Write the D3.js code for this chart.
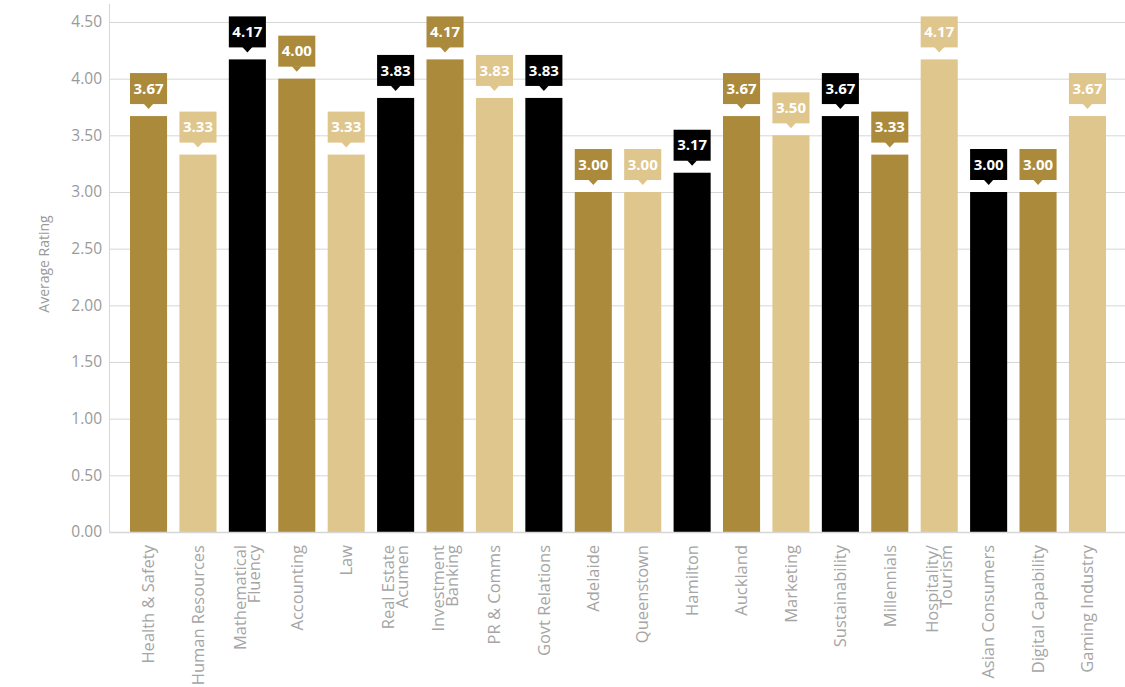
<!DOCTYPE html>
<html>
<head>
<meta charset="utf-8">
<script src="https://cdnjs.cloudflare.com/ajax/libs/d3/7.8.5/d3.min.js"></script>
<style>
  body { margin: 0; background: #fff; }
  svg text { font-family: "Open Sans", sans-serif; }
</style>
</head>
<body>
<svg id="chart" width="1125" height="687"></svg>
<script>
// categories (use \n for two-line labels)
var categories = ["Health & Safety", "Human Resources", "Mathematical\nFluency", "Accounting", "Law",
    "Real Estate\nAcumen", "Investment\nBanking", "PR & Comms", "Govt Relations", "Adelaide",
    "Queenstown", "Hamilton", "Auckland", "Marketing", "Sustainability",
    "Millennials", "Hospitality/\nTourism", "Asian Consumers", "Digital Capability", "Gaming Industry"];
var ratings = [3.67, 3.33, 4.17, 4.00, 3.33, 3.83, 4.17, 3.83, 3.83, 3.00,
    3.00, 3.17, 3.67, 3.50, 3.67, 3.33, 4.17, 3.00, 3.00, 3.67];
var yTicks = [0, 0.5, 1, 1.5, 2, 2.5, 3, 3.5, 4, 4.5];
var palette = ["#ab8a3c", "#dfc68d", "#000000"];

var svg = d3.select("#chart");
var plotL = 109, plotR = 1127, plotT = 22, plotB = 532;

var x = d3.scaleBand()
    .domain(categories)
    .range([plotL, plotR])
    .paddingInner(0.25)
    .paddingOuter(0.425);

var y = d3.scaleLinear()
    .domain([0, 4.5])
    .range([plotB, plotT]);

// grid
svg.append("g")
    .selectAll("line")
    .data(yTicks)
    .enter().append("line")
    .attr("x1", plotL)
    .attr("x2", 1125)
    .attr("y1", function (d) { return y(d) + 0.5; })
    .attr("y2", function (d) { return y(d) + 0.5; })
    .style("stroke", "#d6d6d6")
    .style("stroke-width", 1);

// y axis
var yAxis = svg.append("g")
    .attr("transform", "translate(" + plotL + ",0)")
    .call(d3.axisLeft(y).tickValues(yTicks).tickFormat(d3.format(".2f")).tickSize(0).tickPadding(7));
yAxis.select(".domain").remove();
yAxis.selectAll("text")
    .style("font-size", "15.5px")
    .style("fill", "#9a9a9a");

svg.append("line")
    .attr("x1", plotL + 0.5).attr("x2", plotL + 0.5)
    .attr("y1", 4).attr("y2", plotB)
    .style("stroke", "#d6d6d6");

svg.append("text")
    .attr("transform", "translate(49,264) rotate(-90)")
    .attr("text-anchor", "middle")
    .style("font-size", "14px")
    .style("fill", "#9a9a9a")
    .text("Average Rating");

// bars
svg.append("g")
    .selectAll("rect")
    .data(categories)
    .enter().append("rect")
    .attr("x", function (d) { return x(d); })
    .attr("y", function (d, i) { return y(ratings[i]); })
    .attr("width", x.bandwidth())
    .attr("height", function (d, i) { return plotB - y(ratings[i]); })
    .attr("fill", function (d, i) { return palette[i % 3]; });

// bottom axis line
svg.append("line")
    .attr("x1", plotL).attr("x2", 1125)
    .attr("y1", plotB + 0.5).attr("y2", plotB + 0.5)
    .style("stroke", "#d6d6d6")
    .style("stroke-width", 1.5);

// value callouts
var tags = svg.append("g")
    .selectAll("g")
    .data(categories)
    .enter().append("g")
    .attr("transform", function (d, i) {
        return "translate(" + (x(d) + x.bandwidth() / 2) + "," + y(ratings[i]) + ")";
    });

tags.append("rect")
    .attr("x", -x.bandwidth() / 2)
    .attr("y", -43)
    .attr("width", x.bandwidth())
    .attr("height", 31)
    .attr("fill", function (d, i) { return palette[i % 3]; });

tags.append("path")
    .attr("d", "M-5,-12.5L5,-12.5L0,-7Z")
    .attr("fill", function (d, i) { return palette[i % 3]; });

tags.append("text")
    .attr("y", -27.5)
    .attr("dy", "0.35em")
    .attr("text-anchor", "middle")
    .style("font-size", "15px")
    .style("font-weight", "700")
    .style("fill", "#fff")
    .text(function (d, i) { return ratings[i].toFixed(2); });

// x labels
var xl = svg.append("g")
    .selectAll("text")
    .data(categories)
    .enter().append("text")
    .attr("transform", function (d) {
        return "translate(" + (x(d) + x.bandwidth() / 2) + ",545) rotate(-90)";
    })
    .attr("text-anchor", "end")
    .style("font-size", "16.5px")
    .style("fill", "#a5a5a5");

xl.each(function (d) {
    var lines = d.split("\n");
    var t = d3.select(this);
    lines.forEach(function (ln, k) {
        t.append("tspan")
            .attr("x", 0)
            .attr("y", lines.length == 1 ? 0 : (k == 0 ? -7 : 7))
            .attr("dy", "0.35em")
            .text(ln);
    });
});
</script>
</body>
</html>
